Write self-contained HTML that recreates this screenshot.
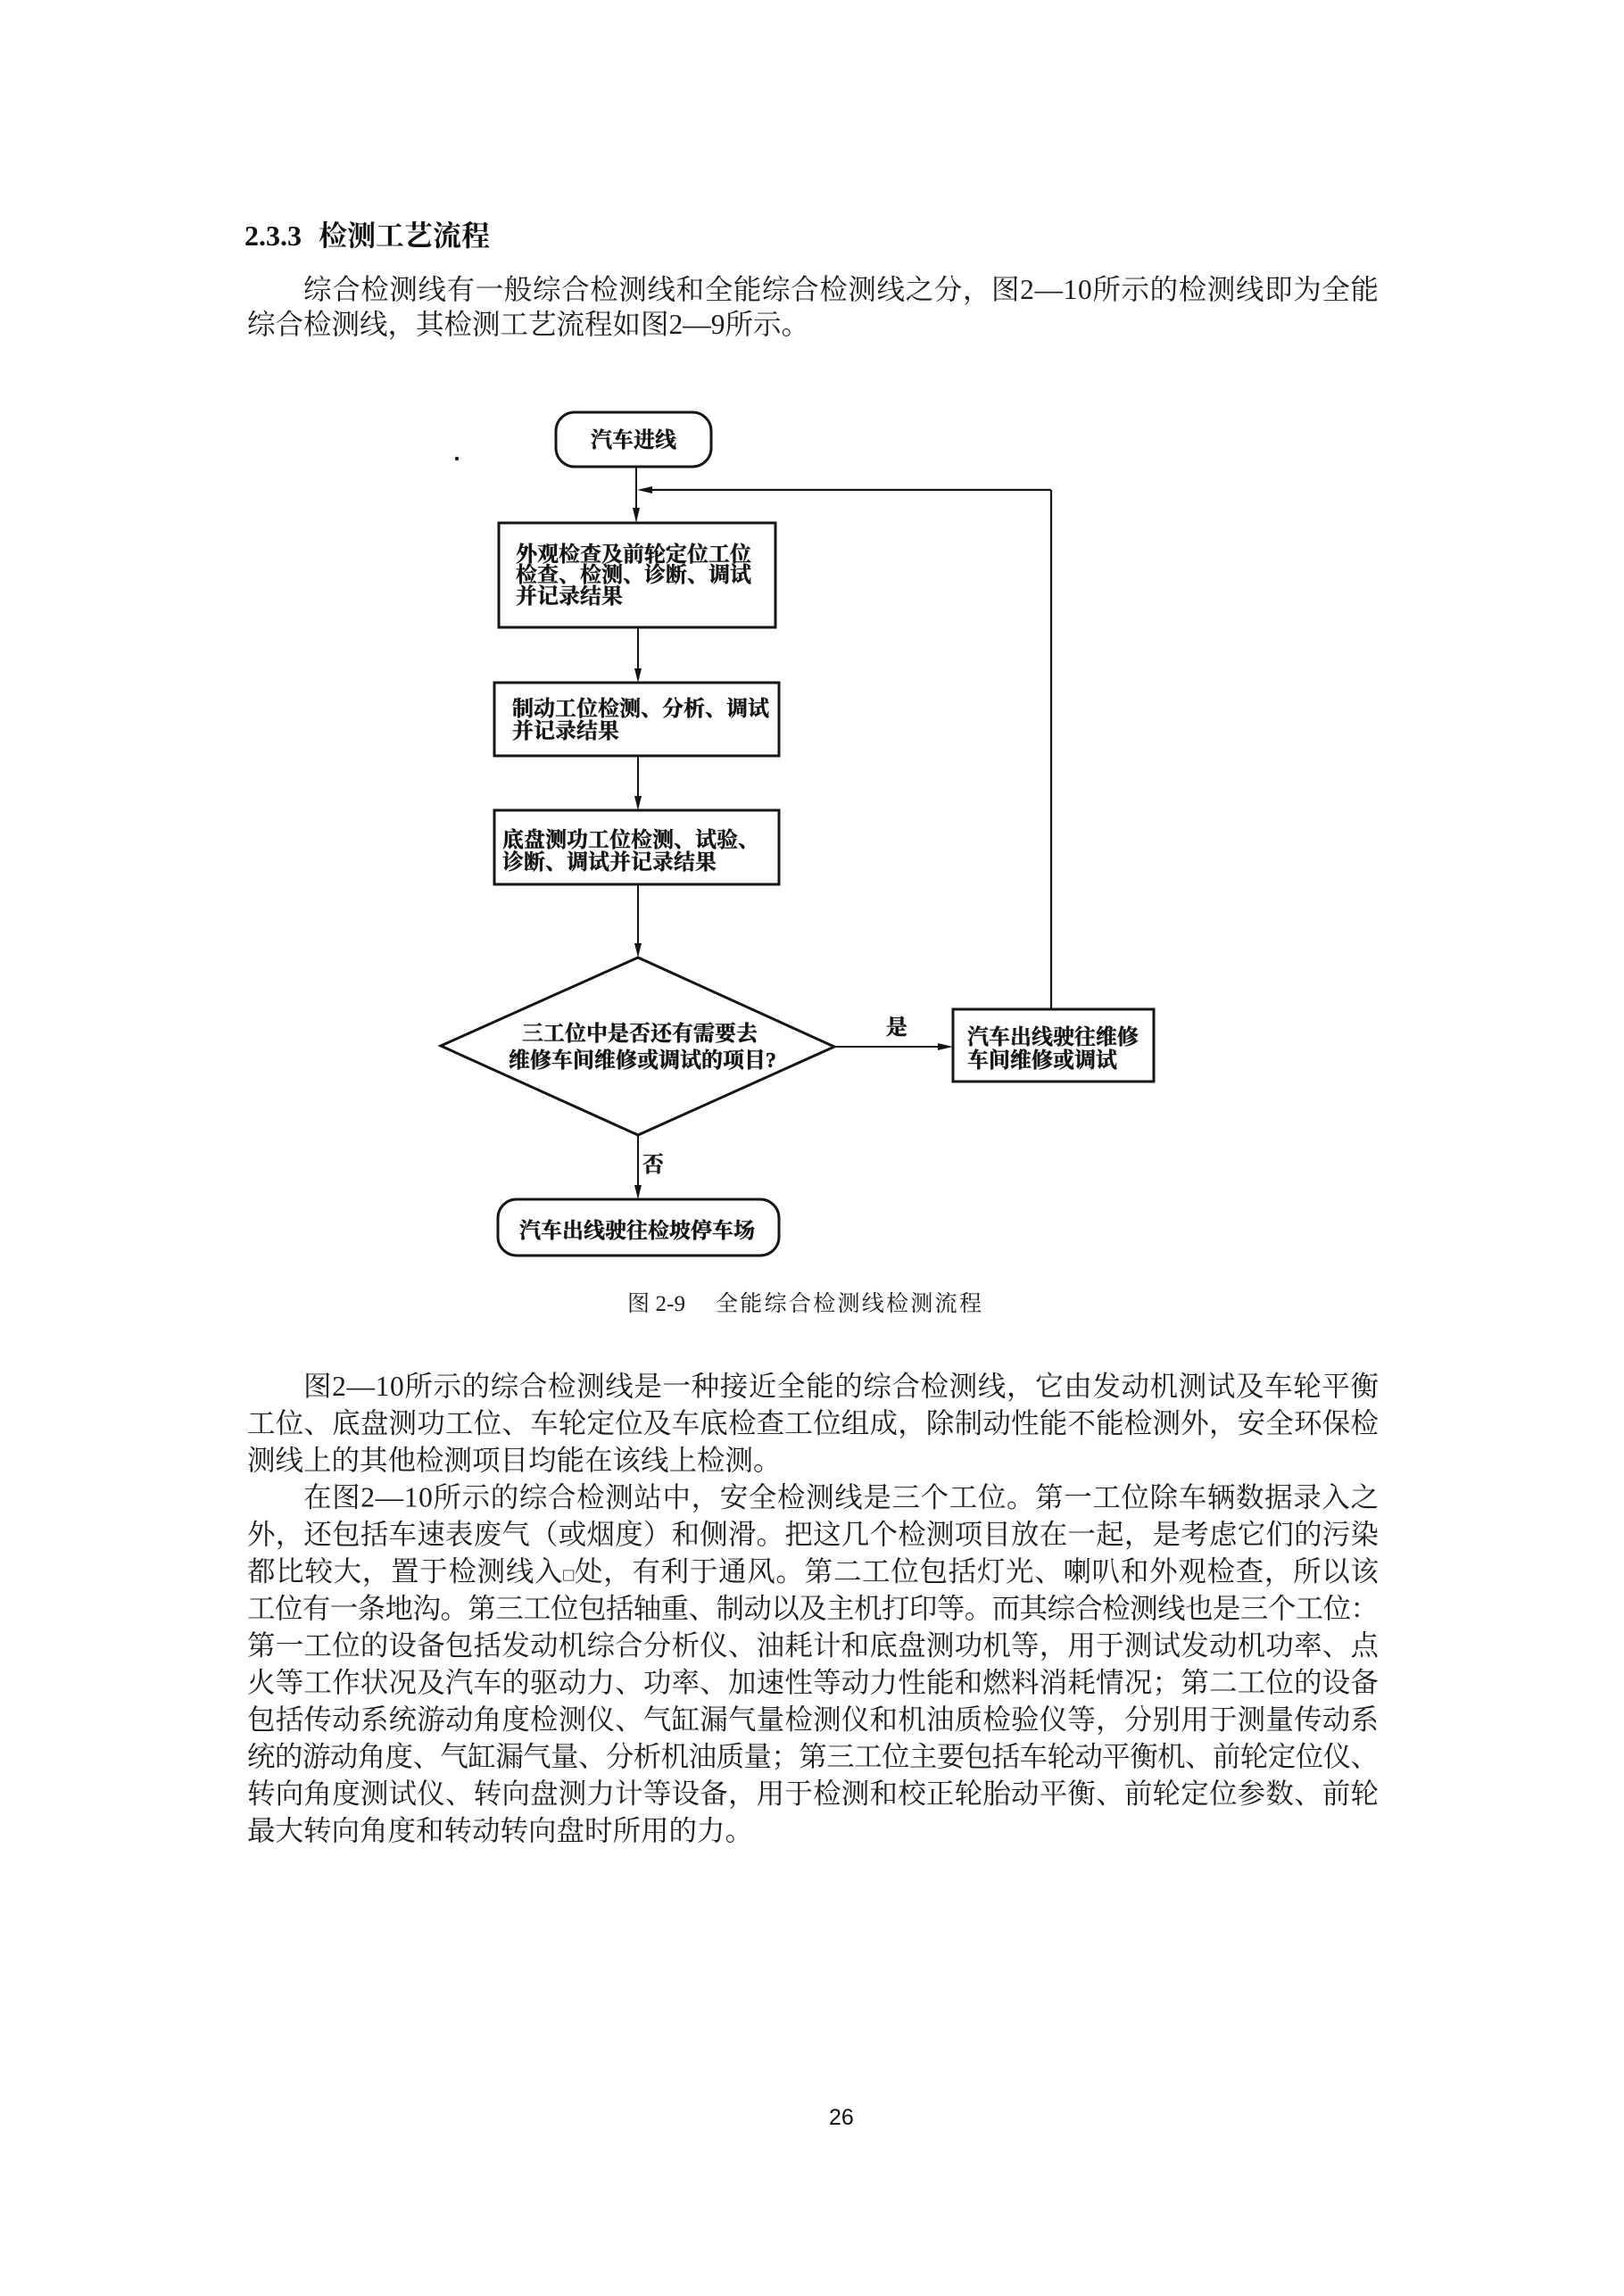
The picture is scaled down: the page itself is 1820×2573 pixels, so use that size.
<!DOCTYPE html>
<html>
<head>
<meta charset="utf-8">
<style>
  html, body { margin: 0; padding: 0; background: #fff; }
  body { width: 1820px; height: 2573px; position: relative; overflow: hidden; }
  svg { position: absolute; left: 0; top: 0; }
  .body { font-family: "Liberation Serif", "Noto Serif CJK SC", serif; font-size: 31.5px; fill: #1c1c1c; }
  .fc { font-family: "Liberation Serif", "Noto Serif CJK SC", serif; font-size: 24px; font-weight: 700; fill: #151515; stroke: #151515; stroke-width: 0.45px; }
  .cap { font-family: "Liberation Serif", "Noto Serif CJK SC", serif; font-size: 25px; fill: #1a1a1a; }
</style>
</head>
<body>
<svg width="1820" height="2573" viewBox="0 0 1820 2573" xmlns="http://www.w3.org/2000/svg">
  <!-- Heading -->
  <text x="274" y="275" font-family="Liberation Serif, serif" font-weight="700" font-size="32" fill="#111">2.3.3</text>
  <text x="357" y="275" font-family="Liberation Serif, Noto Serif CJK SC, serif" font-weight="700" font-size="32" fill="#111">检测工艺流程</text>

  <!-- Paragraph 1 -->
  <text class="body" x="340" y="335" textLength="1205" lengthAdjust="spacing">综合检测线有一般综合检测线和全能综合检测线之分，图2—10所示的检测线即为全能</text>
  <text class="body" x="277" y="374">综合检测线，其检测工艺流程如图2—9所示。</text>

  <!-- Flowchart -->
  <g stroke="#151515" fill="none">
    <rect x="623" y="462" width="174" height="61" rx="21" ry="21" stroke-width="3"/>
    <rect x="559" y="586" width="310" height="117" stroke-width="3"/>
    <rect x="554" y="765" width="319" height="82" stroke-width="3"/>
    <rect x="554" y="908" width="319" height="83" stroke-width="3"/>
    <polygon points="715,1073 935,1173 715,1272 494,1172" stroke-width="3"/>
    <rect x="1068" y="1131" width="225" height="81" stroke-width="3"/>
    <rect x="558" y="1344" width="315" height="63" rx="21" ry="21" stroke-width="3"/>

    <line x1="713" y1="523" x2="713" y2="572" stroke-width="2"/>
    <line x1="715" y1="703" x2="715" y2="752" stroke-width="2"/>
    <line x1="715" y1="847" x2="715" y2="895" stroke-width="2"/>
    <line x1="715" y1="991" x2="715" y2="1060" stroke-width="2"/>
    <line x1="715" y1="1272" x2="715" y2="1331" stroke-width="2"/>
    <line x1="935" y1="1173" x2="1054" y2="1173" stroke-width="2"/>
    <line x1="1178" y1="1131" x2="1178" y2="549" stroke-width="2.2"/>
    <line x1="1178" y1="549" x2="728" y2="549" stroke-width="2.2"/>
  </g>
  <g fill="#151515">
    <polygon points="709,569 713,586 717,569"/>
    <polygon points="711,749 715,765 719,749"/>
    <polygon points="711,892 715,908 719,892"/>
    <polygon points="711,1057 715,1073 719,1057"/>
    <polygon points="711,1328 715,1344 719,1328"/>
    <polygon points="1051,1169 1068,1173 1051,1177"/>
    <polygon points="731,545 714,549 731,553"/>
    <circle cx="512" cy="514" r="2.2"/>
  </g>

  <!-- flowchart text -->
  <text class="fc" x="710" y="501" text-anchor="middle">汽车进线</text>
  <text class="fc" x="578" y="629">外观检查及前轮定位工位</text>
  <text class="fc" x="578" y="652">检查、检测、诊断、调试</text>
  <text class="fc" x="578" y="676">并记录结果</text>
  <text class="fc" x="574" y="802">制动工位检测、分析、调试</text>
  <text class="fc" x="574" y="827">并记录结果</text>
  <text class="fc" x="563" y="949">底盘测功工位检测、试验、</text>
  <text class="fc" x="563" y="974">诊断、调试并记录结果</text>
  <text class="fc" x="717" y="1166" text-anchor="middle">三工位中是否还有需要去</text>
  <text class="fc" x="720" y="1196" text-anchor="middle">维修车间维修或调试的项目?</text>
  <text class="fc" x="1084" y="1170">汽车出线驶往维修</text>
  <text class="fc" x="1084" y="1196">车间维修或调试</text>
  <text class="fc" x="993" y="1159">是</text>
  <text class="fc" x="720" y="1313">否</text>
  <text class="fc" x="714" y="1387" text-anchor="middle">汽车出线驶往检坡停车场</text>

  <!-- Caption -->
  <text class="cap" x="703" y="1469" textLength="65" lengthAdjust="spacing">图 2-9</text>
  <text class="cap" x="802" y="1469" textLength="298" lengthAdjust="spacing">全能综合检测线检测流程</text>

  <!-- Paragraph 2 -->
  <text class="body" x="340" y="1564" textLength="1205" lengthAdjust="spacing">图2—10所示的综合检测线是一种接近全能的综合检测线，它由发动机测试及车轮平衡</text>
  <text class="body" x="277" y="1605.5" textLength="1268" lengthAdjust="spacing">工位、底盘测功工位、车轮定位及车底检查工位组成，除制动性能不能检测外，安全环保检</text>
  <text class="body" x="277" y="1647">测线上的其他检测项目均能在该线上检测。</text>

  <!-- Paragraph 3 -->
  <text class="body" x="340" y="1688.5" textLength="1205" lengthAdjust="spacing">在图2—10所示的综合检测站中，安全检测线是三个工位。第一工位除车辆数据录入之</text>
  <text class="body" x="277" y="1730" textLength="1268" lengthAdjust="spacing">外，还包括车速表废气（或烟度）和侧滑。把这几个检测项目放在一起，是考虑它们的污染</text>
  <text class="body" x="277" y="1771.5" textLength="1268" lengthAdjust="spacing">都比较大，置于检测线入<tspan font-size="20">□</tspan>处，有利于通风。第二工位包括灯光、喇叭和外观检查，所以该</text>
  <text class="body" x="277" y="1813" textLength="1268" lengthAdjust="spacing">工位有一条地沟。第三工位包括轴重、制动以及主机打印等。而其综合检测线也是三个工位：</text>
  <text class="body" x="277" y="1854.5" textLength="1268" lengthAdjust="spacing">第一工位的设备包括发动机综合分析仪、油耗计和底盘测功机等，用于测试发动机功率、点</text>
  <text class="body" x="277" y="1896" textLength="1268" lengthAdjust="spacing">火等工作状况及汽车的驱动力、功率、加速性等动力性能和燃料消耗情况；第二工位的设备</text>
  <text class="body" x="277" y="1937.5" textLength="1268" lengthAdjust="spacing">包括传动系统游动角度检测仪、气缸漏气量检测仪和机油质检验仪等，分别用于测量传动系</text>
  <text class="body" x="277" y="1979" textLength="1268" lengthAdjust="spacing">统的游动角度、气缸漏气量、分析机油质量；第三工位主要包括车轮动平衡机、前轮定位仪、</text>
  <text class="body" x="277" y="2020.5" textLength="1268" lengthAdjust="spacing">转向角度测试仪、转向盘测力计等设备，用于检测和校正轮胎动平衡、前轮定位参数、前轮</text>
  <text class="body" x="277" y="2062">最大转向角度和转动转向盘时所用的力。</text>

  <!-- Page number -->
  <text x="929" y="2381" font-family="Liberation Sans, sans-serif" font-size="25" fill="#111">26</text>
</svg>
</body>
</html>
